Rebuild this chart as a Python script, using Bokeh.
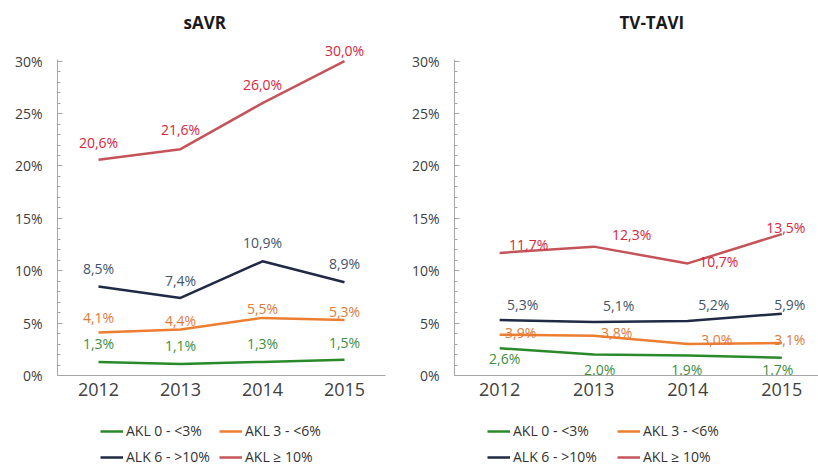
from bokeh.plotting import figure
from bokeh.layouts import row, column
from bokeh.models import (Range1d, FixedTicker, SingleIntervalTicker, PrintfTickFormatter,
                          Legend, LegendItem, ColumnDataSource)
from bokeh.embed import file_html
from bokeh.resources import INLINE
from bokeh.core.properties import value

# ---------------- data ----------------
years = [2012, 2013, 2014, 2015]
series_names = ["AKL 0 - <3%", "AKL 3 - <6%", "ALK 6 - >10%", "AKL \u2265 10%"]

savr_akl0_3 = [1.3, 1.1, 1.3, 1.5]
savr_akl3_6 = [4.1, 4.4, 5.5, 5.3]
savr_alk6_10 = [8.5, 7.4, 10.9, 8.9]
savr_akl10 = [20.6, 21.6, 26.0, 30.0]

tavi_akl0_3 = [2.6, 2.0, 1.9, 1.7]
tavi_akl3_6 = [3.9, 3.8, 3.0, 3.1]
tavi_alk6_10 = [5.3, 5.1, 5.2, 5.9]
tavi_akl10 = [11.7, 12.3, 10.7, 13.5]
tavi_akl0_3_labels = ["2,6%", "2.0%", "1.9%", "1.7%"]

# ---------------- styles ----------------
FONT = "Open Sans"
line_colors = ["#2a8a2a", "#ed7d31", "#1f2a44", "#c4545a"]
label_colors = ["#3e8e3e", "#e07b39", "#44546a", "#d7263d"]

# label offsets (dx, dy) in screen pixels per point
savr_offsets = [
    ([0, 0, 0, 0], [-18, -18, -18, -17]),
    ([0, 0, 0, 0], [-15, -9, -9, -8]),
    ([0, 0, 0, 0], [-18, -17, -19, -19]),
    ([0, 0, 0, 0], [-17, -20, -19, -11]),
]
tavi_offsets = [
    ([5, 6, -1, -4], [10, 15, 14, 12]),
    ([21, 23, 29, 8], [-2, -3, -5, -4]),
    ([23, 25, 26, 8], [-15, -17, -17, -9]),
    ([29, 38, 31, 4], [-8, -12, -2, -7]),
]


def fmt(v):
    return f"{v:.1f}%".replace(".", ",")


def make_panel(title, series, labels, offsets, x_start, x_end, width, mbl, mbr,
               title_offset, legend_x, label_width):
    p = figure(width=width, height=415, output_backend="svg", toolbar_location=None,
               x_range=Range1d(x_start, x_end), y_range=Range1d(0, 31.5),
               min_border_left=mbl, min_border_right=mbr, min_border_top=45,
               min_border_bottom=40)
    p.outline_line_color = None
    p.xgrid.grid_line_color = None
    p.ygrid.grid_line_color = None
    p.background_fill_color = "white"
    p.border_fill_color = "white"

    p.title.text = title
    p.title.align = "left"
    p.title.offset = title_offset
    p.title.vertical_align = "top"
    p.title.standoff = 20
    p.title.text_font = FONT
    p.title.text_font_size = "17px"
    p.title.text_font_style = "bold"
    p.title.text_color = "#1a1a1a"

    # x axis
    xa = p.xaxis[0]
    xa.ticker = FixedTicker(ticks=years)
    xa.formatter = PrintfTickFormatter(format="%d")
    xa.major_tick_line_color = None
    xa.minor_tick_line_color = None
    xa.major_tick_out = 0
    xa.major_tick_in = 0
    xa.axis_line_color = "#a6a6a6"
    xa.axis_line_width = 1
    xa.major_label_text_font = FONT
    xa.major_label_text_font_size = "18px"
    xa.major_label_text_color = "#404040"
    xa.major_label_standoff = 7

    # y axis
    ya = p.yaxis[0]
    ya.ticker = SingleIntervalTicker(interval=5, num_minor_ticks=5)
    ya.formatter = PrintfTickFormatter(format="%d%%")
    ya.bounds = (0, 30.2)
    ya.axis_line_color = "#a6a6a6"
    ya.major_tick_line_color = "#a6a6a6"
    ya.minor_tick_line_color = "#a6a6a6"
    ya.major_tick_in = 5
    ya.major_tick_out = 0
    ya.minor_tick_in = 3
    ya.minor_tick_out = 0
    ya.major_label_text_font = FONT
    ya.major_label_text_font_size = "14px"
    ya.major_label_text_color = "#404040"
    ya.major_label_standoff = 15

    for i, vals in enumerate(series):
        p.line(years, vals, line_color=line_colors[i], line_width=2.5)
        src = ColumnDataSource(dict(x=years, y=vals, t=labels[i],
                                    dx=offsets[i][0], dy=offsets[i][1]))
        p.text(x="x", y="y", text="t", x_offset="dx", y_offset="dy", source=src,
               text_font=value(FONT), text_font_size="14px", text_color=label_colors[i],
               text_align="center", text_baseline="middle")

    # legend strip below the chart (its lines lie outside the strip's view)
    lg = figure(width=width, height=50, output_backend="svg", toolbar_location=None,
                x_range=Range1d(0, 1), y_range=Range1d(0, 1),
                x_axis_location=None, y_axis_location=None, min_border=0)
    lg.outline_line_color = None
    lg.xgrid.grid_line_color = None
    lg.ygrid.grid_line_color = None
    items = []
    for i, name in enumerate(series_names):
        r = lg.line(years, series[i], line_color=line_colors[i], line_width=2.5)
        items.append(LegendItem(label=name, renderers=[r]))
    legend = Legend(items=items, orientation="horizontal", ncols=2,
                    location=(legend_x, -1), padding=0, margin=0, spacing=7,
                    glyph_width=23, glyph_height=14, label_height=14,
                    label_width=label_width, label_standoff=3,
                    label_text_font=FONT, label_text_font_size="14px",
                    label_text_color="#333333",
                    border_line_color=None, background_fill_alpha=0)
    lg.add_layout(legend)
    return column(p, lg, spacing=0)


savr_series = [savr_akl0_3, savr_akl3_6, savr_alk6_10, savr_akl10]
savr_labels = [[fmt(v) for v in s] for s in savr_series]
tavi_series = [tavi_akl0_3, tavi_akl3_6, tavi_alk6_10, tavi_akl10]
tavi_labels = [tavi_akl0_3_labels] + [[fmt(v) for v in s] for s in tavi_series[1:]]

p1 = make_panel("sAVR", savr_series, savr_labels, savr_offsets, 2011.5, 2015.5,
                408, 57, 23, 126, 43, 86)
p2 = make_panel("TV-TAVI", tavi_series, tavi_labels, tavi_offsets, 2011.52, 2015.39,
                410, 41, 0, 165, 33, 97)

layout = row(p1, p2, spacing=0)
open("out.html", "w").write(file_html(layout, INLINE))
